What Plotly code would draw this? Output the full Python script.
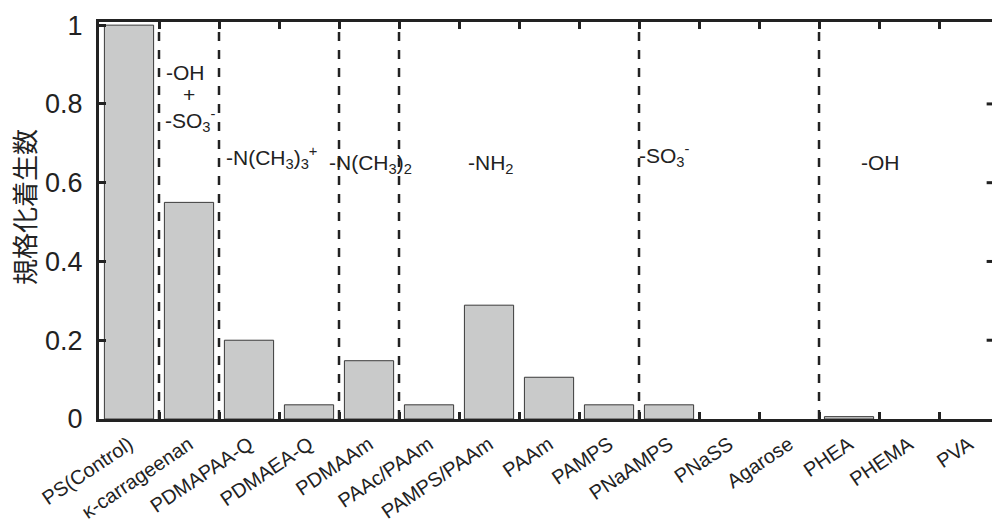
import plotly.graph_objects as go

# Polymer surfaces and their normalized adhesion counts
polymers = ["PS(Control)", "κ-carrageenan", "PDMAPAA-Q", "PDMAEA-Q", "PDMAAm",
            "PAAc/PAAm", "PAMPS/PAAm", "PAAm", "PAMPS", "PNaAMPS", "PNaSS",
            "Agarose", "PHEA", "PHEMA", "PVA"]
normalized_counts = [1.0, 0.55, 0.20, 0.036, 0.148, 0.036, 0.289, 0.106,
                     0.036, 0.036, 0.0, 0.0, 0.006, 0.0, 0.0]

# Group separators (between categories) and functional-group labels
group_boundaries = [0.5, 1.5, 3.5, 4.5, 8.5, 11.5]
group_labels = ["-N(CH<sub>3</sub>)<sub>3</sub><sup>+</sup>", "-N(CH<sub>3</sub>)<sub>2</sub>",
                "-NH<sub>2</sub>", "-SO<sub>3</sub><sup>-</sup>", "-OH"]
group_label_x = [2.38, 4.02, 6.03, 8.93, 12.52]
group_label_y = [0.665, 0.648, 0.648, 0.668, 0.652]
mixed_label_lines = ["-OH", "+", "-SO<sub>3</sub><sup>-</sup>"]
mixed_label_x = [0.94, 1.0, 1.03]
mixed_label_y = [0.881, 0.824, 0.757]

y_ticks = [0, 0.2, 0.4, 0.6, 0.8, 1]
y_tick_text = ["0", "0.2", "0.4", "0.6", "0.8", "1"]

FONT = "Liberation Sans, Arial, Noto Sans CJK JP, sans-serif"
INK = "#222222"

# empty bars get no outline so nothing sits on the baseline
outline_widths = [1 if v > 0 else 0 for v in normalized_counts]

fig = go.Figure()
fig.add_trace(go.Bar(
    x=polymers, y=normalized_counts, width=0.82,
    marker=dict(color="#c9caca", line=dict(color="#3a3a3a", width=outline_widths)),
    showlegend=False,
))

for xb in group_boundaries:
    fig.add_shape(type="line", xref="x", yref="y", x0=xb, x1=xb, y0=0, y1=0.985,
                  line=dict(color=INK, width=2.5, dash="9px,9px"), layer="above")

for txt, gx, gy in zip(group_labels, group_label_x, group_label_y):
    fig.add_annotation(x=gx, y=gy, xref="x", yref="y", text=txt, showarrow=False,
                       font=dict(family=FONT, size=21, color=INK))
for txt, gx, gy in zip(mixed_label_lines, mixed_label_x, mixed_label_y):
    fig.add_annotation(x=gx, y=gy, xref="x", yref="y", text=txt, showarrow=False,
                       font=dict(family=FONT, size=21, color=INK))

# y-axis title
fig.add_annotation(x=0, y=0.538, xref="paper", yref="y", xanchor="center", yanchor="middle",
                   xshift=-76, text="規格化着生数", textangle=-90, showarrow=False,
                   font=dict(family="Noto Sans CJK JP", size=26, color=INK))

# right-hand tick stubs at the plot edge
for yt in y_ticks[1:-1]:
    fig.add_shape(type="line", xref="paper", yref="y", x0=0.994, x1=1.0, y0=yt, y1=yt,
                  line=dict(color=INK, width=3))

fig.update_layout(
    width=992, height=528,
    margin=dict(l=99, r=0, t=22, b=109, autoexpand=False),
    paper_bgcolor="white", plot_bgcolor="white",
    font=dict(family=FONT, color=INK),
)
fig.update_xaxes(
    type="category", range=[-0.5, 14.383], automargin=False,
    tickson="boundaries", ticks="inside", ticklen=7, tickwidth=3, tickcolor=INK,
    showline=True, linecolor=INK, linewidth=3, mirror="ticks",
    showgrid=False, tickangle=-34, ticklabelstandoff=3,
    tickfont=dict(family=FONT, size=20, color=INK),
)
fig.update_yaxes(
    range=[0, 1.008], tickvals=y_ticks, ticktext=y_tick_text, automargin=False,
    ticks="inside", ticklen=7, tickwidth=3, tickcolor=INK,
    showline=True, linecolor=INK, linewidth=3,
    showgrid=False, zeroline=False, ticklabelstandoff=8,
    tickfont=dict(family=FONT, size=27, color=INK),
)

fig.write_html("out.html")
